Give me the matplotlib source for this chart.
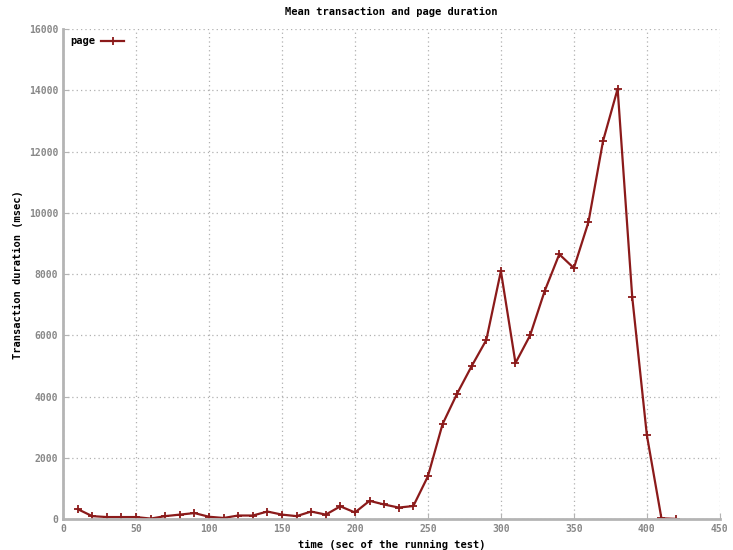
import matplotlib
matplotlib.use("Agg")
import matplotlib.pyplot as plt

# time (sec) and mean page duration (msec)
times = [10, 20, 30, 40, 50, 60, 70, 80, 90, 100, 110, 120, 130, 140, 150, 160,
         170, 180, 190, 200, 210, 220, 230, 240, 250, 260, 270, 280, 290, 300,
         310, 320, 330, 340, 350, 360, 370, 380, 390, 400, 410, 420]
page = [330, 100, 70, 70, 70, 20, 100, 150, 200, 80, 40, 120, 120, 250, 150, 100,
        250, 150, 420, 220, 600, 480, 380, 430, 1400, 3100, 4100, 5000, 5850, 8100,
        5100, 6000, 7450, 8650, 8200, 9700, 12350, 14050, 7250, 2750, 30, 10]

xticks = [0, 50, 100, 150, 200, 250, 300, 350, 400, 450]
yticks = [0, 2000, 4000, 6000, 8000, 10000, 12000, 14000, 16000]

plt.rcParams['font.family'] = ['DejaVu Sans Mono']

fig = plt.figure(figsize=(7.33, 5.5), dpi=100)
ax = fig.add_axes([0.086, 0.056, 0.896, 0.891])

ax.plot(times, page, color='#8b1a1a', lw=1.6, marker='+', ms=6, mew=1.3, label='page')

ax.set_xlim(0, 450)
ax.set_ylim(0, 16000)
ax.set_xticks(xticks)
ax.set_yticks(yticks)
ax.grid(True, color='#b0b0b0', linestyle=(0, (1, 2.5)), lw=0.9)

for s in ['top', 'right']:
    ax.spines[s].set_visible(False)
for s in ['left', 'bottom']:
    ax.spines[s].set_color('#b4b4b4')
    ax.spines[s].set_linewidth(2)

ax.tick_params(direction='in', length=4, color='#b4b4b4', labelsize=7, labelcolor='#888888')
for lab in ax.get_xticklabels() + ax.get_yticklabels():
    lab.set_fontweight('bold')

ax.set_title('Mean transaction and page duration', fontsize=7.5, fontweight='bold', pad=10)
ax.set_xlabel('time (sec of the running test)', fontsize=7.5, fontweight='bold')
ax.set_ylabel('Transaction duration (msec)', fontsize=7.5, fontweight='bold', labelpad=4)

leg = ax.legend(loc='upper left', frameon=False, markerfirst=False, fontsize=7.5,
                handlelength=2.3, handletextpad=0.5, borderaxespad=0.3)
for t in leg.get_texts():
    t.set_fontweight('bold')

fig.savefig('out.png', dpi=100)
